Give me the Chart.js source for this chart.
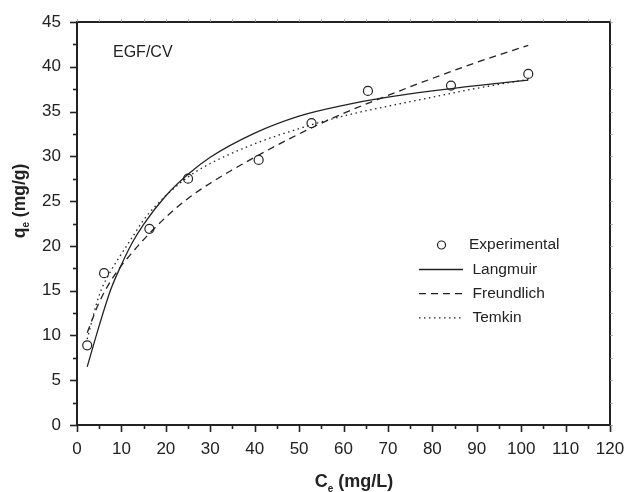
<!DOCTYPE html>
<html>
<head>
<meta charset="utf-8">
<script src="https://cdn.jsdelivr.net/npm/chart.js@4.4.1/dist/chart.umd.min.js"></script>
<style>
  html, body { margin: 0; padding: 0; background: #fff; }
</style>
</head>
<body>
<canvas id="chart" width="625" height="492"></canvas>
<script>
// experimental points
const ceExp = [2.3, 6.1, 16.3, 25.0, 40.9, 52.8, 65.5, 84.2, 101.6];
const qeExp = [8.9, 16.95, 21.9, 27.5, 29.6, 33.7, 37.3, 37.9, 39.2];

// fitted curves at these Ce values
const ceFit = [2.3, 5, 7.5, 10, 12.5, 15, 20, 25, 30, 40, 50, 60, 70, 80, 90, 101.6];
const langmuir   = [6.5, 11.1, 15.0, 17.9, 20.4, 22.4, 25.6, 28.0, 29.9, 32.6, 34.5, 35.7, 36.6, 37.3, 37.9, 38.5];
const freundlich = [10.3, 13.7, 16.0, 17.8, 19.3, 20.7, 23.2, 25.3, 27.0, 29.9, 32.5, 34.8, 36.8, 38.7, 40.5, 42.4];
const temkin     = [9.6, 14.5, 17.1, 19.1, 21.0, 22.9, 25.6, 27.7, 29.2, 31.4, 33.1, 34.5, 35.6, 36.6, 37.6, 38.6];

const seriesNames = ["Experimental", "Langmuir", "Freundlich", "Temkin"];
const ink = "#222";
const font = "Arial, 'Liberation Sans', sans-serif";
const dashes = { Langmuir: [], Freundlich: [7, 5], Temkin: [1.5, 3.5] };

const pts = (xs, ys) => xs.map((v, i) => ({ x: v, y: ys[i] }));

function lineSet(name, ys) {
  return {
    label: name,
    data: pts(ceFit, ys),
    showLine: true,
    borderColor: ink,
    borderWidth: 1.3,
    borderDash: dashes[name],
    pointRadius: 0,
    cubicInterpolationMode: "monotone",
    fill: false
  };
}

const decorations = {
  id: "decorations",
  afterDraw(chart) {
    const { ctx, chartArea: a, scales: { x, y } } = chart;
    ctx.save();
    ctx.strokeStyle = ink;
    ctx.fillStyle = ink;

    // frame
    ctx.lineWidth = 2;
    ctx.strokeRect(a.left, a.top, a.right - a.left, a.bottom - a.top);

    // tick marks
    const seg = (x1, y1, x2, y2) => { ctx.beginPath(); ctx.moveTo(x1, y1); ctx.lineTo(x2, y2); ctx.stroke(); };
    ctx.lineWidth = 1.6;
    x.ticks.forEach(t => {
      const px = Math.round(x.getPixelForValue(t.value)) + 0.5;
      seg(px, a.bottom, px, a.bottom + (t.value % 10 === 0 ? 7 : 4));
    });
    y.ticks.forEach(t => {
      const py = Math.round(y.getPixelForValue(t.value)) + 0.5;
      seg(a.left, py, a.left - (t.value % 5 === 0 ? 7 : 4), py);
    });
    ctx.lineWidth = 0.8;
    ctx.strokeStyle = "#999";
    x.ticks.forEach(t => {
      const px = Math.round(x.getPixelForValue(t.value)) + 0.5;
      seg(px, a.top, px, a.top - 3);
    });
    y.ticks.forEach(t => {
      const py = Math.round(y.getPixelForValue(t.value)) + 0.5;
      seg(a.right, py, a.right + 3, py);
    });
    ctx.strokeStyle = ink;

    // axis titles with subscripts
    ctx.textBaseline = "middle";
    const title = (main, sub, rest, cx, cy, size, rot) => {
      ctx.save();
      ctx.translate(cx, cy);
      ctx.rotate(rot);
      ctx.font = "bold " + size + "px " + font;
      const w1 = ctx.measureText(main).width;
      const w3 = ctx.measureText(rest).width;
      ctx.font = "bold " + Math.round(size * 0.55) + "px " + font;
      const w2 = ctx.measureText(sub).width;
      let sx = -(w1 + w2 + w3) / 2;
      ctx.textAlign = "left";
      ctx.font = "bold " + size + "px " + font;
      ctx.fillText(main, sx, 0);
      ctx.font = "bold " + Math.round(size * 0.55) + "px " + font;
      ctx.fillText(sub, sx + w1, size * 0.38);
      ctx.font = "bold " + size + "px " + font;
      ctx.fillText(rest, sx + w1 + w2, 0);
      ctx.restore();
    };
    title("C", "e", " (mg/L)", 354, 482, 18, 0);
    title("q", "e", " (mg/g)", 20, 201, 17.5, -Math.PI / 2);

    // label inside plot
    ctx.font = "16px " + font;
    ctx.textAlign = "left";
    ctx.fillText("EGF/CV", 113, 53);

    // legend
    ctx.font = "15.5px " + font;
    ctx.lineWidth = 1.2;
    ctx.beginPath();
    ctx.arc(441.5, 245, 4, 0, Math.PI * 2);
    ctx.stroke();
    ctx.fillText(seriesNames[0], 469, 245);
    seriesNames.slice(1).forEach((name, i) => {
      const ly = 269.5 + i * 24.2;
      ctx.lineWidth = 1.3;
      ctx.setLineDash(dashes[name]);
      seg(419, ly, 463, ly);
      ctx.setLineDash([]);
      ctx.fillText(name, 472.5, ly);
    });
    ctx.restore();
  }
};

new Chart(document.getElementById("chart"), {
  type: "scatter",
  data: {
    datasets: [
      {
        label: seriesNames[0],
        data: pts(ceExp, qeExp),
        showLine: false,
        pointStyle: "circle",
        pointRadius: 4.5,
        pointBorderWidth: 1.2,
        pointBorderColor: ink,
        pointBackgroundColor: "rgba(255,255,255,0)"
      },
      lineSet("Langmuir", langmuir),
      lineSet("Freundlich", freundlich),
      lineSet("Temkin", temkin)
    ]
  },
  options: {
    responsive: false,
    animation: false,
    layout: { padding: { left: 0, right: 15, top: 22, bottom: 0 } },
    plugins: { legend: { display: false }, tooltip: { enabled: false } },
    scales: {
      x: {
        type: "linear",
        min: 0,
        max: 120,
        border: { display: false },
        grid: { display: false, drawTicks: false },
        ticks: {
          stepSize: 5,
          autoSkip: false,
          maxRotation: 0,
          padding: 14,
          color: ink,
          font: { family: font, size: 17 },
          callback: v => (v % 10 === 0 ? v : "")
        },
        afterFit: s => { s.height = 67; s.paddingLeft = 0; s.paddingRight = 0; }
      },
      y: {
        type: "linear",
        min: 0,
        max: 45,
        border: { display: false },
        grid: { display: false, drawTicks: false },
        ticks: {
          stepSize: 2.5,
          autoSkip: false,
          padding: 16,
          color: ink,
          font: { family: font, size: 17 },
          callback: v => (v % 5 === 0 ? v : "")
        },
        afterFit: s => { s.width = 77; s.paddingTop = 0; s.paddingBottom = 0; }
      }
    }
  },
  plugins: [decorations]
});
</script>
</body>
</html>
